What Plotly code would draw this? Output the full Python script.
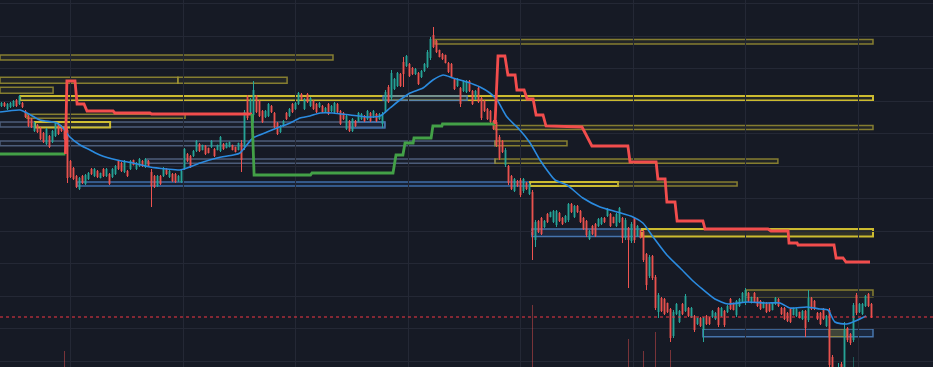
import plotly.graph_objects as go

# ---- OHLC data (bar index on x, price units on y) ----
opens = [294,297,291,293,294,300,296,297,289,284,
         281,269,275,272,267,256,264,258,264,276,
         274,272,270,239,232,224,211,224,216,221,
         231,224,229,222,231,224,226,223,226,239,
         237,228,229,231,240,231,234,239,233,239,
         228,224,214,224,224,231,223,226,226,219,
         218,231,246,244,244,249,256,250,254,252,
         253,251,250,249,256,252,253,255,253,250,
         257,253,303,288,285,304,299,289,283,284,
         294,287,277,268,274,287,284,296,291,296,
         306,291,306,294,299,296,293,294,288,296,
         289,288,296,289,287,271,279,269,279,279,
         281,284,281,287,283,286,281,276,288,313,
         302,311,314,326,338,334,336,332,326,327,
         323,329,333,342,365,359,350,346,345,337,
         336,321,314,312,309,308,319,309,301,312,
         302,299,291,289,279,278,263,259,235,234,
         224,209,219,220,209,217,206,208,160,179,
         182,173,186,183,178,175,187,182,178,180,
         196,183,194,189,182,179,161,174,176,174,
         176,182,184,186,183,174,178,182,162,172,
         159,182,164,170,169,146,124,144,123,88,
         102,101,97,91,64,86,78,96,89,92,
         83,84,76,82,70,84,82,83,81,92,
         84,89,88,101,97,85,94,98,97,107,
         97,107,102,99,92,97,96,90,96,101,
         92,92,87,91,85,84,88,81,89,80,
         102,99,87,87,91,74,90,43,10,20,
         36,25,72,66,60,105,88,86,94,106,96]
highs = [298,298,297,298,300,301,305,298,290,285,
         282,278,276,273,268,272,265,270,278,277,
         275,273,272,240,233,225,223,225,226,228,
         232,232,230,227,232,232,227,232,235,240,
         238,240,230,240,240,238,242,240,242,240,
         231,225,225,225,233,232,230,227,227,225,
         230,252,247,245,250,260,257,255,255,252,
         260,252,255,264,257,257,258,255,253,257,
         260,290,305,302,319,305,300,290,290,297,
         295,288,278,275,280,288,292,297,298,308,
         307,302,307,303,300,297,298,295,293,297,
         295,298,297,290,288,285,280,282,280,288,
         287,285,290,288,290,287,287,288,310,315,
         330,322,328,327,343,345,337,333,332,328,
         330,337,350,363,373,360,350,347,345,338,
         337,322,322,313,320,320,320,310,310,313,
         303,300,292,290,280,280,265,260,252,235,
         225,222,220,222,222,218,217,210,180,180,
         183,180,187,188,190,190,188,183,185,197,
         197,195,195,190,183,180,170,175,177,182,
         183,183,192,187,183,187,193,183,182,173,
         178,183,175,170,170,147,145,145,125,107,
         103,102,97,92,90,97,90,97,106,93,
         93,85,82,83,83,85,83,90,88,93,
         93,90,95,102,97,100,102,108,112,108,
         103,108,103,100,98,98,97,97,103,102,
         93,93,88,92,92,92,88,90,90,110,
         103,100,88,88,92,85,92,45,30,37,
         38,78,73,67,97,107,97,97,105,107,97]
lows = [293,293,290,292,293,293,295,292,282,273,
        272,268,267,260,257,255,252,257,263,265,
        268,260,217,222,220,212,210,216,215,220,
        225,223,222,222,223,223,215,222,225,230,
        228,227,223,230,235,230,233,233,232,233,
        193,212,213,215,223,225,222,218,217,218,
        217,230,238,232,243,248,248,250,245,247,
        252,243,250,248,250,252,253,250,248,250,
        228,250,280,287,277,287,283,277,282,283,
        287,272,265,267,273,280,283,287,290,295,
        300,290,297,293,290,287,292,287,287,285,
        288,287,287,275,280,270,268,268,273,278,
        280,278,280,278,282,278,280,272,287,297,
        300,310,313,313,313,333,323,325,325,315,
        322,328,332,340,352,347,343,340,337,327,
        322,310,313,293,308,307,308,295,300,297,
        280,288,280,277,270,253,240,247,233,215,
        210,208,213,203,207,210,205,140,153,167,
        165,172,177,183,177,173,178,175,177,178,
        187,182,187,177,170,163,160,165,163,173,
        175,177,183,173,177,173,177,157,160,112,
        157,157,163,162,138,110,122,120,90,82,
        88,85,87,58,62,85,77,85,88,83,
        82,68,75,73,58,75,75,82,80,73,
        83,73,87,90,90,83,93,97,95,98,
        97,97,93,90,92,87,88,90,95,93,
        85,80,78,77,85,83,82,80,63,78,
        90,90,80,75,80,73,20,5,5,15,
        12,20,58,55,58,85,87,85,93,93,82]
closes = [297,294,296,297,299,294,304,293,283,274,
          273,277,268,261,258,271,253,269,277,266,
          269,261,222,223,221,213,222,217,225,227,
          226,231,223,227,224,231,216,231,234,231,
          229,239,224,239,235,237,241,234,241,234,
          214,213,224,216,232,226,229,219,218,224,
          229,251,239,233,249,259,249,255,246,247,
          259,244,255,263,251,257,258,250,248,257,
          240,288,282,300,310,288,284,278,289,296,
          288,273,266,274,279,281,291,288,297,307,
          301,301,298,302,291,288,297,288,292,286,
          294,297,288,276,281,284,269,281,274,287,
          286,279,289,279,289,279,286,286,308,298,
          327,321,327,314,326,344,324,326,331,316,
          329,336,348,361,353,348,343,341,337,328,
          323,311,321,296,319,319,309,296,309,298,
          282,289,281,278,271,255,242,248,250,217,
          211,221,214,205,221,211,216,165,178,168,
          166,179,178,188,189,189,179,176,184,196,
          188,194,188,178,171,165,169,166,164,181,
          182,178,191,174,177,186,192,162,180,160,
          176,160,174,162,140,115,143,122,92,105,
          89,86,88,62,88,96,89,86,104,84,
          92,70,82,74,82,76,76,89,87,75,
          92,75,94,91,90,99,101,107,110,99,
          103,98,94,91,98,88,89,97,102,94,
          86,81,79,78,92,91,82,89,72,102,
          91,91,81,76,81,84,35,15,25,33,
          18,70,60,57,95,87,96,96,104,94,83]
bars = list(range(len(opens)))

# ---- volume spikes (bar index, volume) ----
vol_idx = [21, 177, 209, 214, 218, 223, 284]
vol_vals = [16, 62, 28, 16, 35, 17, 10]

# ---- moving average ----
ema_x = [-0.5, 6.2, 8.5, 12.8, 18.5, 20.5, 22.8, 26.2, 29.5, 32.8,
         38.5, 43.8, 49.5, 55.2, 59.5, 61.8, 66.2, 71.8, 77.2, 79.5,
         83.8, 88.5, 91.8, 96.2, 99.5, 102.8, 106.2, 110.5, 116.2, 121.8,
         126.2, 129.5, 132.8, 136.2, 140.5, 143.8, 147.2, 150.5, 155.2, 159.5,
         162.8, 165.2, 168.5, 172.8, 176.2, 179.5, 181.8, 184.5, 188.5, 193.8,
         199.5, 205.2, 210.5, 213.8, 217.2, 221.8, 226.2, 230.5, 232.8, 237.8,
         242.2, 248.5, 255.2, 259.5, 262.8, 268.5, 272.8, 275.5, 277.8, 281.8,
         288.2]
ema_y = [288, 290, 287, 280, 277, 272, 263, 255, 250, 245,
         240, 237, 233, 231, 230, 232, 237, 242, 245, 247,
         262, 268, 272, 277, 282, 284, 287, 287, 285, 283,
         284, 292, 300, 307, 312, 320, 325, 322, 318, 313,
         307, 300, 283, 270, 257, 240, 230, 220, 215, 202,
         193, 188, 183, 177, 163, 145, 132, 119, 113, 101,
         96, 98, 97, 97, 92, 93, 91, 90, 78, 76,
         84]

# ---- trailing stop (bull / bear segments) ----
st_up1_x = [-0.5, 21.3]
st_up1_y = [246, 246]
st_dn1_x = [21.3, 21.8, 24.5, 25.2, 27.5, 28.5, 37.2, 37.8, 49.5, 50, 83.5]
st_dn1_y = [246, 319, 319, 296, 296, 289, 289, 287, 287, 286, 286]
st_up2_x = [83.5, 84.2, 103, 103.5, 130.5, 131.5, 133.8, 134.5, 137.2, 137.5, 143.2, 143.8, 146.8, 147, 164.5]
st_up2_y = [286, 225, 225, 227, 227, 245, 245, 257, 257, 262, 262, 274, 274, 276, 276]
st_dn2_x = [164.5, 165.5, 167.8, 168.8, 171.2, 171.8, 174.2, 175.2, 177.2, 178.2,
            180.5, 181.5, 193.5, 196.8, 208.8, 209.5, 218.2, 218.8, 221.2, 221.8,
            224.5, 225.2, 233.8, 234.5, 255.5, 256.5, 262.2, 262.5, 265.2, 265.5,
            277.5, 278.2, 280.5, 281.5, 289.5]
st_dn2_y = [276, 344, 344, 325, 325, 310, 310, 301, 301, 285,
            285, 274, 273, 254, 254, 238, 238, 221, 221, 198,
            198, 179, 179, 171, 171, 169, 169, 157, 157, 155,
            155, 142, 142, 138, 138]

# ---- zones: start bar, end bar, top price, bottom price, kind ----
zone_x0 = [144.5, -0.5, -0.5, 58.8, -0.5, 6.2, 127.2, 8.5, -0.5, 11.2, 116.2, 164.5,
           -0.5, 164.5, 48.5, 164.5, 25.2, 176.2, 205.5, 176.8, 213.5, 248.2, 233.8, 275.8]
zone_x1 = [290.5, 110.5, 58.8, 95.2, 17.2, 290.5, 155.2, 61.2, 127.8, 36.2, 127.8, 290.5,
           164.5, 188.5, 164.5, 258.8, 176.2, 205.5, 245.2, 213.5, 290.5, 290.5, 290.5, 281.8]
zone_top = [360.5, 345, 322.7, 322.7, 312.7, 304, 304, 285.7, 278, 278, 278, 274.5,
            259, 259, 241, 241, 218, 218, 218, 171, 171, 110, 71, 71]
zone_bot = [356, 340, 316.7, 316.7, 306.7, 299.5, 299.5, 281.7, 273, 272.5, 272, 270.5,
            254.3, 254.3, 236.7, 236.7, 214, 214, 214, 163.5, 163.5, 103.3, 63.3, 63.3]
zone_kind = ["olive", "olive", "olive", "olive", "olive", "yellow", "blue", "olive", "slate", "yellow", "blue", "olive",
             "slate", "olive", "slate", "olive", "blue", "yellow", "olive", "bluefill", "yellowfill", "olive", "bluefill", "olivefill"]

# ---- styles ----
BG = "#161a25"
GRID = "#242835"
UP = "#26a69a"
DN = "#ef5350"
zone_style = {
    "olive": dict(line="rgba(170,158,52,0.75)", fill="rgba(150,140,60,0.10)", w=1.5),
    "yellow": dict(line="rgba(214,196,48,0.95)", fill="rgba(180,165,50,0.10)", w=2),
    "blue": dict(line="rgba(70,125,190,0.85)", fill="rgba(40,100,180,0.10)", w=1.5),
    "slate": dict(line="rgba(95,115,150,0.75)", fill="rgba(80,100,140,0.06)", w=1.5),
    "bluefill": dict(line="rgba(75,125,185,0.9)", fill="rgba(45,95,165,0.22)", w=1.5),
    "yellowfill": dict(line="rgba(214,196,48,0.95)", fill="rgba(140,130,45,0.22)", w=2),
    "olivefill": dict(line="rgba(150,140,55,0.8)", fill="rgba(130,120,45,0.35)", w=1.2),
}

fig = go.Figure()

for x0, x1, t, b, k in zip(zone_x0, zone_x1, zone_top, zone_bot, zone_kind):
    s = zone_style[k]
    fig.add_shape(type="rect", xref="x", yref="y", x0=x0, x1=x1, y0=b, y1=t,
                  line=dict(color=s["line"], width=s["w"]), fillcolor=s["fill"], layer="below")

vol_colors = ["rgba(239,83,80,0.45)" if closes[i] < opens[i] else "rgba(38,166,154,0.45)" for i in vol_idx]
fig.add_trace(go.Bar(x=vol_idx, y=vol_vals, yaxis="y2", marker=dict(color=vol_colors, line=dict(width=0)),
                     width=0.45, hoverinfo="skip", showlegend=False))

fig.add_trace(go.Candlestick(
    x=bars, open=opens, high=highs, low=lows, close=closes,
    increasing=dict(line=dict(color=UP, width=1), fillcolor=UP),
    decreasing=dict(line=dict(color=DN, width=1), fillcolor=DN),
    whiskerwidth=0, hoverinfo="skip", showlegend=False))

fig.add_trace(go.Scatter(x=ema_x, y=ema_y, mode="lines", line=dict(color="#2b8be0", width=1.6, shape="spline", smoothing=0.6),
                         hoverinfo="skip", showlegend=False))
for xs, ys, col in [(st_up1_x, st_up1_y, "#43a047"), (st_dn1_x, st_dn1_y, "#f24d4d"),
                    (st_up2_x, st_up2_y, "#43a047"), (st_dn2_x, st_dn2_y, "#f24d4d")]:
    fig.add_trace(go.Scatter(x=xs, y=ys, mode="lines", line=dict(color=col, width=2.8),
                             hoverinfo="skip", showlegend=False))

fig.add_shape(type="line", xref="paper", yref="y", x0=0, x1=1, y0=closes[-1], y1=closes[-1],
              line=dict(color="#f23645", width=1, dash="dot"))

fig.update_layout(
    width=933, height=367, margin=dict(l=0, r=0, t=0, b=0),
    paper_bgcolor=BG, plot_bgcolor=BG, showlegend=False,
    xaxis=dict(range=[-0.5, 310.5], showticklabels=False, zeroline=False, showline=False,
               showgrid=True, gridcolor=GRID, gridwidth=1, tick0=23, dtick=37.5,
               rangeslider=dict(visible=False), fixedrange=True),
    yaxis=dict(range=[33, 400], showticklabels=False, zeroline=False, showline=False,
               showgrid=True, gridcolor=GRID, gridwidth=1, tick0=38.7, dtick=32.5, fixedrange=True),
    yaxis2=dict(range=[0, 367], overlaying="y", showticklabels=False, showgrid=False,
                zeroline=False, showline=False, fixedrange=True),
    bargap=0,
    boxgap=0.6,
)

fig.write_html("out.html", config={"displayModeBar": False, "staticPlot": True},
               post_script="document.body.style.margin='0';document.body.style.background='#161a25';")
